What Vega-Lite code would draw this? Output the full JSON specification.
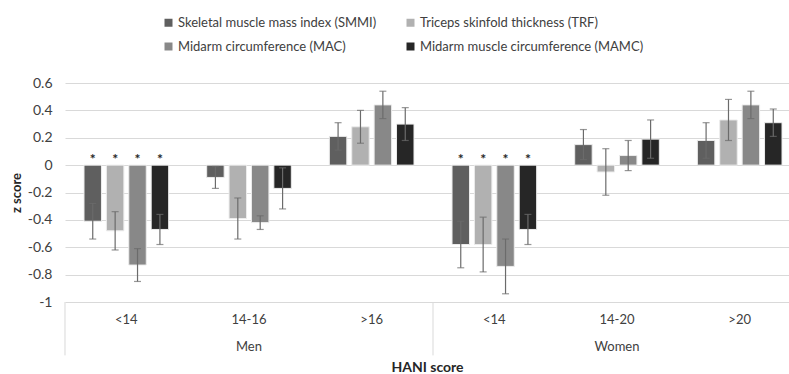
{
  "$schema": "https://vega.github.io/schema/vega-lite/v6.json",
  "autosize": "none",
  "width": 724,
  "height": 219,
  "padding": {"left": 65, "top": 83, "right": 0, "bottom": 72},
  "config": {
    "font": "Lato",
    "view": {"stroke": null},
    "text": {"font": "Lato"},
    "axisY": {
      "labelOverlap": false,
      "labelBound": false,
      "labelSeparation": 0,
      "tickCount": 9,
      "values": [-1, -0.8, -0.6, -0.4, -0.2, 0, 0.2, 0.4, 0.6],
      "format": ".1~f",
      "labelExpr": "replace(datum.label, '\u2212', '-')",
      "title": "z score",
      "titleFontSize": 13,
      "titleFontWeight": "bold",
      "titleColor": "#262626",
      "titlePadding": 4,
      "labelFontSize": 14,
      "labelColor": "#404040",
      "labelPadding": 13,
      "domain": false,
      "ticks": false,
      "grid": true,
      "gridColor": "#d9d9d9",
      "gridWidth": 1
    }
  },
  "datasets": {
    "bars": [
      {"cat": "M|<14", "series": "Skeletal muscle mass index (SMMI)", "value": -0.41, "lo": -0.54, "hi": -0.28, "sig": "*"},
      {"cat": "M|<14", "series": "Triceps skinfold thickness (TRF)", "value": -0.48, "lo": -0.62, "hi": -0.34, "sig": "*"},
      {"cat": "M|<14", "series": "Midarm circumference (MAC)", "value": -0.73, "lo": -0.85, "hi": -0.61, "sig": "*"},
      {"cat": "M|<14", "series": "Midarm muscle circumference (MAMC)", "value": -0.47, "lo": -0.58, "hi": -0.36, "sig": "*"},
      {"cat": "M|14-16", "series": "Skeletal muscle mass index (SMMI)", "value": -0.09, "lo": -0.17, "hi": -0.01, "sig": ""},
      {"cat": "M|14-16", "series": "Triceps skinfold thickness (TRF)", "value": -0.39, "lo": -0.54, "hi": -0.24, "sig": ""},
      {"cat": "M|14-16", "series": "Midarm circumference (MAC)", "value": -0.42, "lo": -0.47, "hi": -0.37, "sig": ""},
      {"cat": "M|14-16", "series": "Midarm muscle circumference (MAMC)", "value": -0.17, "lo": -0.32, "hi": -0.02, "sig": ""},
      {"cat": "M|>16", "series": "Skeletal muscle mass index (SMMI)", "value": 0.21, "lo": 0.11, "hi": 0.31, "sig": ""},
      {"cat": "M|>16", "series": "Triceps skinfold thickness (TRF)", "value": 0.28, "lo": 0.16, "hi": 0.40, "sig": ""},
      {"cat": "M|>16", "series": "Midarm circumference (MAC)", "value": 0.44, "lo": 0.34, "hi": 0.54, "sig": ""},
      {"cat": "M|>16", "series": "Midarm muscle circumference (MAMC)", "value": 0.30, "lo": 0.18, "hi": 0.42, "sig": ""},
      {"cat": "W|<14", "series": "Skeletal muscle mass index (SMMI)", "value": -0.58, "lo": -0.75, "hi": -0.41, "sig": "*"},
      {"cat": "W|<14", "series": "Triceps skinfold thickness (TRF)", "value": -0.58, "lo": -0.78, "hi": -0.38, "sig": "*"},
      {"cat": "W|<14", "series": "Midarm circumference (MAC)", "value": -0.74, "lo": -0.94, "hi": -0.54, "sig": "*"},
      {"cat": "W|<14", "series": "Midarm muscle circumference (MAMC)", "value": -0.47, "lo": -0.58, "hi": -0.36, "sig": "*"},
      {"cat": "W|14-20", "series": "Skeletal muscle mass index (SMMI)", "value": 0.15, "lo": 0.04, "hi": 0.26, "sig": ""},
      {"cat": "W|14-20", "series": "Triceps skinfold thickness (TRF)", "value": -0.05, "lo": -0.22, "hi": 0.12, "sig": ""},
      {"cat": "W|14-20", "series": "Midarm circumference (MAC)", "value": 0.07, "lo": -0.04, "hi": 0.18, "sig": ""},
      {"cat": "W|14-20", "series": "Midarm muscle circumference (MAMC)", "value": 0.19, "lo": 0.05, "hi": 0.33, "sig": ""},
      {"cat": "W|>20", "series": "Skeletal muscle mass index (SMMI)", "value": 0.18, "lo": 0.05, "hi": 0.31, "sig": ""},
      {"cat": "W|>20", "series": "Triceps skinfold thickness (TRF)", "value": 0.33, "lo": 0.18, "hi": 0.48, "sig": ""},
      {"cat": "W|>20", "series": "Midarm circumference (MAC)", "value": 0.44, "lo": 0.34, "hi": 0.54, "sig": ""},
      {"cat": "W|>20", "series": "Midarm muscle circumference (MAMC)", "value": 0.31, "lo": 0.21, "hi": 0.41, "sig": ""}
    ],
    "groups": [
      {"cat": "M|14-16", "grp": "Men"},
      {"cat": "W|14-20", "grp": "Women"}
    ],
    "seps": [
      {"cat": "M|<14"},
      {"cat": "W|<14"}
    ]
  },
  "encoding": {
    "x": {
      "field": "cat",
      "type": "nominal",
      "scale": {
        "domain": ["M|<14", "M|14-16", "M|>16", "W|<14", "W|14-20", "W|>20"],
        "paddingInner": 0.31,
        "paddingOuter": 0.106,
        "align": 0.731
      },
      "axis": {
        "title": "HANI score",
        "titleFontSize": 14,
        "titleFontWeight": "bold",
        "titleColor": "#262626",
        "titlePadding": 34,
        "labelExpr": "split(datum.label, '|')[1]",
        "labelAngle": 0,
        "labelFontSize": 13,
        "labelColor": "#404040",
        "labelPadding": 11,
        "domain": false,
        "ticks": false,
        "grid": false
      }
    }
  },
  "layer": [
    {
      "data": {"name": "bars"},
      "mark": {"type": "bar", "stroke": "#ececec", "strokeWidth": 1},
      "encoding": {
        "xOffset": {
          "field": "series",
          "type": "nominal",
          "scale": {
            "domain": ["Skeletal muscle mass index (SMMI)", "Triceps skinfold thickness (TRF)", "Midarm circumference (MAC)", "Midarm muscle circumference (MAMC)"],
            "paddingInner": 0.22,
            "paddingOuter": 0
          }
        },
        "y": {
          "field": "value",
          "type": "quantitative",
          "title": "z score",
          "scale": {"domain": [-1, 0.6], "nice": false, "zero": true}
        },
        "color": {
          "field": "series",
          "type": "nominal",
          "scale": {
            "domain": ["Skeletal muscle mass index (SMMI)", "Triceps skinfold thickness (TRF)", "Midarm circumference (MAC)", "Midarm muscle circumference (MAMC)"],
            "range": ["#5f5f5f", "#b1b1b1", "#888888", "#262626"]
          },
          "legend": {
            "title": null,
            "orient": "none",
            "legendX": 97,
            "legendY": -67,
            "direction": "horizontal",
            "columns": 2,
            "symbolType": "square",
            "symbolSize": 64,
            "symbolStrokeWidth": 0,
            "labelFontSize": 13,
            "labelColor": "#404040",
            "labelLimit": 320,
            "labelOffset": 3,
            "columnPadding": 27,
            "rowPadding": 10,
            "padding": 0
          }
        }
      }
    },
    {
      "data": {"name": "bars"},
      "mark": {"type": "rule", "color": "#6b6b6b", "strokeWidth": 1.2},
      "encoding": {
        "xOffset": {"field": "series", "type": "nominal"},
        "y": {"field": "lo", "type": "quantitative", "title": "z score"},
        "y2": {"field": "hi"}
      }
    },
    {
      "data": {"name": "bars"},
      "mark": {"type": "tick", "color": "#6b6b6b", "size": 7, "thickness": 1.2},
      "encoding": {
        "xOffset": {"field": "series", "type": "nominal"},
        "y": {"field": "lo", "type": "quantitative", "title": "z score"}
      }
    },
    {
      "data": {"name": "bars"},
      "mark": {"type": "tick", "color": "#6b6b6b", "size": 7, "thickness": 1.2},
      "encoding": {
        "xOffset": {"field": "series", "type": "nominal"},
        "y": {"field": "hi", "type": "quantitative", "title": "z score"}
      }
    },
    {
      "data": {"name": "bars"},
      "mark": {"type": "text", "fontSize": 14, "fontWeight": "bold", "color": "#262626", "baseline": "middle"},
      "encoding": {
        "xOffset": {"field": "series", "type": "nominal"},
        "y": {"datum": 0.04, "title": "z score"},
        "text": {"field": "sig"}
      }
    },
    {
      "data": {"name": "seps"},
      "mark": {"type": "rule", "color": "#d9d9d9", "strokeWidth": 1},
      "encoding": {
        "x": {"field": "cat", "type": "nominal", "bandPosition": -0.2246},
        "y": {"datum": -1, "title": "z score"},
        "y2": {"datum": -1.39}
      }
    },
    {
      "data": {"name": "groups"},
      "mark": {"type": "text", "fontSize": 13, "color": "#404040", "baseline": "middle"},
      "encoding": {
        "y": {"datum": -1.33, "title": "z score"},
        "text": {"field": "grp"}
      }
    }
  ]
}
